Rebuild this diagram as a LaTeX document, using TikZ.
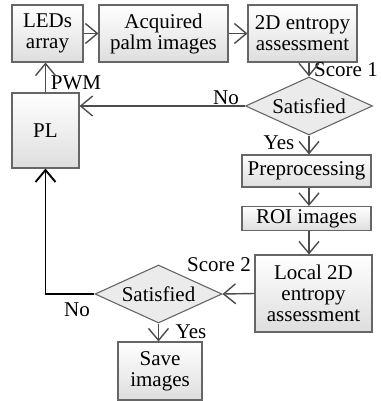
\documentclass[tikz,border=0pt]{standalone}
\usepackage{fontspec}
\setmainfont{Liberation Serif}
\usetikzlibrary{shapes.geometric,arrows.meta}

\begin{document}
\begin{tikzpicture}[x=1pt,y=-1pt,font=\fontsize{21}{21}\selectfont,box/.style={draw=black!60,line width=1.1pt,top color=white,bottom color=black!13,align=center,inner sep=0pt},check/.style={diamond,draw=black!60,line width=1.1pt,fill=black!8,inner sep=0pt,minimum width=127pt,minimum height=58pt,aspect=2.2},flow/.style={draw=black!70,line width=1.4pt,-{Straight Barb[length=12pt,width=20pt]}},loop/.style={draw=black,line width=1.9pt,-{Straight Barb[length=12pt,width=20pt]}},lbl/.style={inner sep=0pt}]
\useasboundingbox (0,0) rectangle (380,401);
\node[box,minimum width=71pt,minimum height=57pt] (leds) at (47.5,33.5) {LEDs\\array};
\node[box,minimum width=129pt,minimum height=57pt] (acq) at (163.5,33.5) {Acquired\\palm images};
\node[box,minimum width=109pt,minimum height=57pt] (ent) at (302.5,33.5) {2D entropy\\assessment};
\node[check] (dec1) at (309,106) {Satisfied};
\node[box,minimum width=67pt,minimum height=75pt] (pl) at (45.5,130.5) {PL};
\node[box,minimum width=129pt,minimum height=32pt] (pre) at (306.5,171) {Preprocessing};
\node[box,minimum width=129pt,minimum height=24pt] (roi) at (306.5,218.5) {ROI images};
\node[box,minimum width=117pt,minimum height=77pt] (loc) at (313.5,293.5) {Local 2D\\entropy\\assessment};
\node[check] (dec2) at (158.5,294) {Satisfied};
\node[box,minimum width=84pt,minimum height=58pt] (save) at (160,371) {Save\\images};
% labels
\node[lbl] (pwm) at (76,83) {PWM};
\node[lbl] (no1) at (226,98) {No};
\node[lbl] (s1) at (346,70) {Score 1};
\node[lbl] (yes1) at (279,143) {Yes};
\node[lbl] (s2) at (219,265) {Score 2};
\node[lbl] (no2) at (77,310) {No};
\node[lbl] (yes2) at (191,332) {Yes};
% connectors
\draw[flow] (leds) -- (acq);
\draw[flow] (acq) -- (ent);
\draw[flow] (dec1.north |- ent.south) -- (dec1.north);
\draw[flow] (dec1.west) -- (pl.east |- dec1.west);
\draw[flow] (pl.north) -- (pl.north |- leds.south);
\draw[flow] (dec1.south) -- (dec1.south |- pre.north);
\draw[flow] (dec1.south |- pre.south) -- (dec1.south |- roi.north);
\draw[flow] (dec1.south |- roi.south) -- (dec1.south |- loc.north);
\draw[flow] (loc.west) -- (dec2.east);
\draw[flow] (dec2.south) -- (dec2.south |- save.north);
\draw[loop] (dec2.west) -| (pl.south);
\end{tikzpicture}
\end{document}
